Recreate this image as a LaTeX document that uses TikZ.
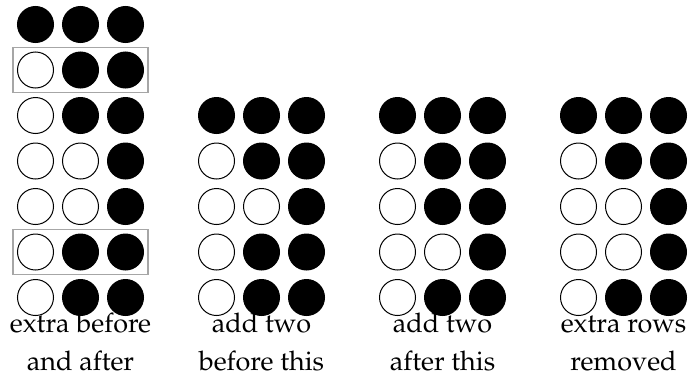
\documentclass[tikz,border=0pt]{standalone}
\usepackage[T1]{fontenc}
\usepackage{mathpazo}
\usetikzlibrary{fit}

% one row of three dots: group, row, style of each dot
\newcommand{\dotrow}[5]{%
  \node[#3] (d#1-#2-1) at ({35.5+181*(#1-1)},{24.5+45.5*(#2-1)}) {};
  \node[#4] (d#1-#2-2) at ({80.5+181*(#1-1)},{24.5+45.5*(#2-1)}) {};
  \node[#5] (d#1-#2-3) at ({125.5+181*(#1-1)},{24.5+45.5*(#2-1)}) {};}

\tikzset{
  dot/.style={circle, draw, line width=0.5pt, minimum size=18pt, inner sep=0pt},
  on/.style={dot, fill=black},
  off/.style={dot, fill=white},
  frame/.style={draw=black!35, line width=0.6pt, inner sep=2pt},
  caption/.style={align=center, anchor=base, inner sep=0pt,
    font=\fontsize{13.5}{19}\selectfont},
}

\begin{document}
\begin{tikzpicture}[x=0.5pt, y=-0.5pt]
  \useasboundingbox (0,0) rectangle (688,375);
  % captions under each column
  \node[caption] (cap1) at (80.5,370)  {extra before\\and after};
  \node[caption] (cap2) at (261.5,370) {add two\\before this};
  \node[caption] (cap3) at (442.5,370) {add two\\after this};
  \node[caption] (cap4) at (623.5,370) {extra rows\\removed};
  % first column, with the two marked rows
  \dotrow{1}{1}{on}{on}{on}
  \dotrow{1}{2}{off}{on}{on}
  \dotrow{1}{3}{off}{on}{on}
  \dotrow{1}{4}{off}{off}{on}
  \dotrow{1}{5}{off}{off}{on}
  \dotrow{1}{6}{off}{on}{on}
  \dotrow{1}{7}{off}{on}{on}
  \node[frame, fit=(d1-2-1)(d1-2-3)] (mark1) {};
  \node[frame, fit=(d1-6-1)(d1-6-3)] (mark2) {};
  % second column
  \dotrow{2}{3}{on}{on}{on}
  \dotrow{2}{4}{off}{on}{on}
  \dotrow{2}{5}{off}{off}{on}
  \dotrow{2}{6}{off}{on}{on}
  \dotrow{2}{7}{off}{on}{on}
  % third column
  \dotrow{3}{3}{on}{on}{on}
  \dotrow{3}{4}{off}{on}{on}
  \dotrow{3}{5}{off}{on}{on}
  \dotrow{3}{6}{off}{off}{on}
  \dotrow{3}{7}{off}{on}{on}
  % fourth column
  \dotrow{4}{3}{on}{on}{on}
  \dotrow{4}{4}{off}{on}{on}
  \dotrow{4}{5}{off}{off}{on}
  \dotrow{4}{6}{off}{off}{on}
  \dotrow{4}{7}{off}{on}{on}
\end{tikzpicture}
\end{document}
